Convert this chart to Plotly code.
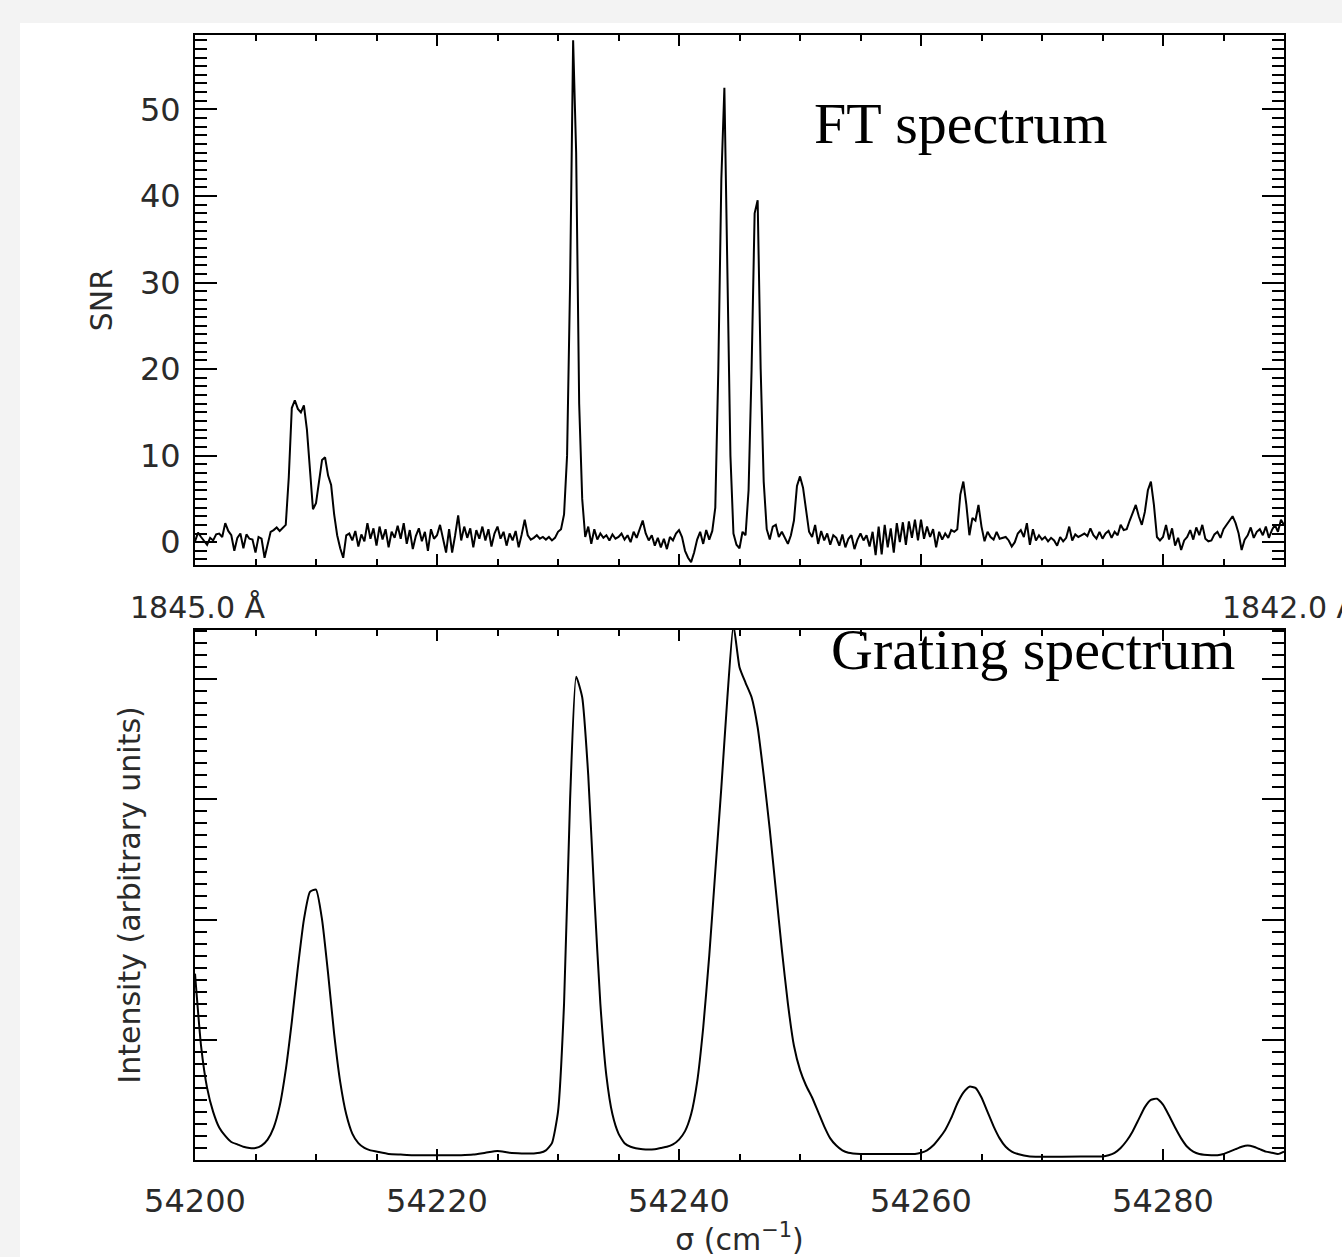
import numpy as np
import plotly.graph_objects as go

# ---------------- data ----------------
# FT spectrum: SNR sampled every 0.25 cm-1 from 54200 (rows = one cm-1 each)
ft_start = 54200.0
ft_step = 0.25
ft_snr = [
    0.1, 1.1, 0.6, 0.2,      # 54200
    -0.3, 0.5, 0.2, 0.9,     # 54201
    1.0, 0.6, 2.2, 1.3,      # 54202
    0.8, -1.0, 0.5, 1.0,     # 54203
    -0.7, 0.9, 0.4, 0.3,     # 54204
    -1.2, 0.6, 0.4, -1.8,    # 54205
    -0.2, 1.2, 1.4, 1.7,     # 54206
    1.3, 1.7, 2.0, 7.5,      # 54207
    15.5, 16.4, 15.4, 15.0,  # 54208
    15.8, 13.0, 8.5, 3.8,    # 54209
    4.5, 6.8, 9.5, 9.8,      # 54210
    7.7, 6.6, 3.2, 0.8,      # 54211
    -0.7, -1.8, 0.8, 1.0,    # 54212
    0.2, 1.3, -0.5, 0.9,     # 54213
    0.1, 2.2, 0.4, 1.6,      # 54214
    -0.4, 1.8, 0.3, 1.5,     # 54215
    -0.6, 1.2, 0.5, 1.9,     # 54216
    0.4, 2.2, -0.2, 1.4,     # 54217
    -0.8, 0.7, 1.6, 0.1,     # 54218
    1.2, -1.0, 1.5, 0.4,     # 54219
    0.8, 2.0, 0.5, -1.2,     # 54220
    1.5, -1.2, 0.8, 3.1,     # 54221
    0.2, 1.8, 0.5, 1.6,      # 54222
    -0.6, 1.4, 0.4, 1.8,     # 54223
    0.2, 1.5, -0.5, 1.0,     # 54224
    1.8, 0.4, 1.2, -0.4,     # 54225
    1.0, 0.2, 1.3, -0.6,     # 54226
    0.9, 2.6, 0.8, 0.3,      # 54227
    0.5, 0.8, 0.4, 0.6,      # 54228
    0.3, 0.6, 0.2, 0.5,      # 54229
    1.2, 1.5, 3.2, 10.0,     # 54230
    30.0, 58.0, 45.0, 16.0,  # 54231
    5.0, 0.6, 1.8, -0.2,     # 54232
    1.5, 0.3, 1.0, 0.5,      # 54233
    0.8, 0.2, 0.9, 0.4,      # 54234
    0.6, 1.0, 0.3, 0.8,      # 54235
    0.0, 1.2, 0.5, 1.6,      # 54236
    2.5, 1.0, 0.2, 0.8,      # 54237
    -0.4, 0.5, -0.6, 0.4,    # 54238
    -0.8, 0.6, 0.2, 1.0,     # 54239
    1.4, 0.6, -1.0, -1.8,    # 54240
    -2.3, -1.2, 0.3, 1.2,    # 54241
    -0.2, 1.4, 0.3, 1.3,     # 54242
    4.0, 20.0, 42.0, 52.5,   # 54243
    30.0, 10.0, 1.0, -0.3,   # 54244
    -0.7, 1.2, 0.8, 6.0,     # 54245
    20.0, 38.0, 39.5, 20.0,  # 54246
    7.0, 1.5, 0.3, 1.8,      # 54247
    2.0, 0.6, 1.2, 0.5,      # 54248
    -0.2, 0.8, 2.5, 6.5,     # 54249
    7.6, 6.3, 3.8, 1.2,      # 54250
    0.6, 2.0, -0.2, 1.3,     # 54251
    0.2, 1.0, -0.3, 0.8,     # 54252
    0.5, -0.4, 0.9, -0.6,    # 54253
    0.4, 0.8, -0.8, 0.3,     # 54254
    1.0, 0.2, 0.8, -0.5,     # 54255
    1.2, -1.5, 1.8, -1.4,    # 54256
    2.0, -0.6, 1.6, -1.2,    # 54257
    2.2, 0.0, 2.3, -0.3,     # 54258
    2.4, 0.5, 2.6, 0.2,      # 54259
    2.6, 0.4, 1.8, 0.6,      # 54260
    1.5, -0.6, 1.2, 0.3,     # 54261
    1.0, 0.5, 1.4, 1.2,      # 54262
    1.5, 5.5, 7.0, 4.3,      # 54263
    0.8, 2.8, 2.5, 4.3,      # 54264
    1.8, 0.1, 1.2, 0.6,      # 54265
    0.3, 1.2, 0.4, 0.5,      # 54266
    0.6, 0.2, -0.5, 0.0,     # 54267
    1.0, 1.4, 0.6, 2.2,      # 54268
    -0.3, 1.5, 0.2, 0.8,     # 54269
    0.3, 0.6, 0.1, 0.5,      # 54270
    0.2, -0.4, 0.6, 0.1,     # 54271
    0.5, 1.8, 0.2, 0.9,      # 54272
    0.6, 0.8, 1.0, 0.7,      # 54273
    1.6, 0.8, 0.4, 1.2,      # 54274
    0.4, 1.0, 1.3, 0.5,      # 54275
    1.2, 0.8, 2.0, 1.4,      # 54276
    1.5, 2.5, 3.5, 4.3,      # 54277
    3.0, 2.0, 3.5, 6.0,      # 54278
    7.0, 4.3, 0.6, 0.2,      # 54279
    0.6, 2.0, 0.3, 1.6,      # 54280
    -0.4, 0.5, -0.9, 0.2,    # 54281
    0.6, 1.4, 0.3, 1.7,      # 54282
    0.8, 2.0, 0.4, 0.1,      # 54283
    0.2, 0.9, 1.2, 0.5,      # 54284
    1.5, 2.0, 2.4, 3.0,      # 54285
    2.2, 1.0, -0.9, 0.3,     # 54286
    0.8, 1.7, 0.5, 1.2,      # 54287
    1.5, 0.8, 1.8, 0.5,      # 54288
    1.4, 2.0, 1.2, 2.6,      # 54289
    2.0,                     # 54290
]
ft_sigma = ft_start + ft_step * np.arange(len(ft_snr))

# Grating spectrum (arbitrary units)
grating_sigma = [
    54200.0, 54200.5, 54201.0, 54201.5, 54202.0, 54202.5, 54203.0, 54203.5,
    54204.0, 54204.5, 54205.0, 54205.5, 54206.0, 54206.5, 54207.0, 54207.5,
    54208.0, 54208.5, 54209.0, 54209.5, 54210.0, 54210.5, 54211.0, 54211.5,
    54212.0, 54212.5, 54213.0, 54213.5, 54214.0, 54214.5, 54215.0, 54216.0,
    54217.0, 54218.0, 54220.0, 54222.0, 54223.0, 54224.0, 54225.0, 54226.0,
    54227.0, 54228.0, 54228.5, 54229.0, 54229.5, 54230.0, 54230.5, 54231.0,
    54231.5, 54232.0, 54232.5, 54233.0, 54233.5, 54234.0, 54234.5, 54235.0,
    54235.5, 54236.0, 54237.0, 54238.0, 54238.5, 54239.0, 54239.5, 54240.0,
    54240.5, 54241.0, 54241.5, 54242.0, 54242.5, 54243.0, 54243.5, 54244.0,
    54244.5, 54245.0, 54245.5, 54246.0, 54246.5, 54247.0, 54247.5, 54248.0,
    54248.5, 54249.0, 54249.5, 54250.0, 54250.5, 54251.0, 54251.5, 54252.0,
    54252.5, 54253.0, 54253.5, 54254.0, 54255.0, 54258.0, 54259.0, 54259.5,
    54260.0, 54260.5, 54261.0, 54261.5, 54262.0, 54262.5, 54263.0, 54263.5,
    54264.0, 54264.5, 54265.0, 54265.5, 54266.0, 54266.5, 54267.0, 54267.5,
    54268.0, 54269.0, 54274.0, 54275.0, 54275.5, 54276.0, 54276.5, 54277.0,
    54277.5, 54278.0, 54278.5, 54279.0, 54279.5, 54280.0, 54280.5, 54281.0,
    54281.5, 54282.0, 54282.5, 54283.0, 54284.0, 54284.5, 54285.0, 54285.5,
    54286.0, 54286.5, 54287.0, 54287.5, 54288.0, 54288.5, 54289.0, 54289.5,
    54290.0,
]
grating_intensity = [
    1.55, 0.95, 0.60, 0.40, 0.27, 0.20, 0.15, 0.13,
    0.11, 0.10, 0.10, 0.12, 0.17, 0.27, 0.45, 0.75,
    1.15, 1.60, 2.00, 2.23, 2.25, 2.00, 1.55, 1.05,
    0.65, 0.38, 0.22, 0.14, 0.10, 0.08, 0.07, 0.05,
    0.045, 0.04, 0.04, 0.04, 0.045, 0.06, 0.075, 0.06,
    0.055, 0.055, 0.06, 0.08, 0.14, 0.40, 1.30, 3.00,
    4.02, 3.85, 3.20, 2.20, 1.30, 0.70, 0.38, 0.22,
    0.14, 0.11, 0.09, 0.09, 0.10, 0.11, 0.13, 0.17,
    0.24, 0.38, 0.65, 1.10, 1.70, 2.40, 3.10, 3.85,
    4.45, 4.10, 3.97, 3.85, 3.60, 3.20, 2.75, 2.25,
    1.75, 1.30, 0.95, 0.75, 0.62, 0.52, 0.40, 0.28,
    0.18, 0.12, 0.08, 0.06, 0.05, 0.05, 0.05, 0.05,
    0.06, 0.08, 0.12, 0.18, 0.25, 0.35, 0.47, 0.56,
    0.61, 0.60, 0.52, 0.40, 0.28, 0.18, 0.11, 0.07,
    0.05, 0.03, 0.03, 0.03, 0.04, 0.06, 0.10, 0.16,
    0.24, 0.34, 0.44, 0.50, 0.51, 0.46, 0.37, 0.27,
    0.18, 0.11, 0.07, 0.05, 0.04, 0.04, 0.05, 0.07,
    0.09, 0.11, 0.12, 0.11, 0.09, 0.07, 0.06, 0.05,
    0.07,
]

# ---------------- layout geometry ----------------
W, H = 1342, 1257
ML, MR, MT, MB = 195, 58, 35, 93
PW = W - ML - MR
PH = H - MT - MB


def px_x(px):
    return (px - ML) / PW


def px_y(py):
    return (H - MB - py) / PH


SANS = "DejaVu Sans"
SERIF = "Liberation Serif"
TXT = "#2a2a2a"

fig = go.Figure()
fig.add_trace(go.Scatter(x=ft_sigma, y=ft_snr, mode="lines",
                         line=dict(color="black", width=2),
                         xaxis="x", yaxis="y", showlegend=False))
fig.add_trace(go.Scatter(x=grating_sigma, y=grating_intensity, mode="lines",
                         line=dict(color="black", width=2, shape="spline", smoothing=0.5),
                         xaxis="x2", yaxis="y2", showlegend=False))

common = dict(showline=True, linecolor="black", linewidth=2, mirror="allticks",
              ticks="inside", tickcolor="black", tickwidth=2,
              showgrid=False, zeroline=False)

xcommon = dict(common, range=[54200, 54290], tick0=54200, dtick=20, ticklen=11,
               tickformat="d",
               minor=dict(dtick=5, tick0=54200, ticklen=6, tickwidth=2,
                          tickcolor="black", ticks="inside", showgrid=False))

fig.update_layout(
    width=W, height=H,
    margin=dict(l=ML, r=MR, t=MT, b=MB),
    paper_bgcolor="white", plot_bgcolor="white",
    xaxis=dict(xcommon, domain=[0, 1], anchor="y", showticklabels=False),
    yaxis=dict(common, domain=[px_y(567), 1], anchor="x", range=[-2.65, 58.6],
               tick0=0, dtick=10, ticklen=22,
               minor=dict(dtick=1, tick0=0, ticklen=12, tickwidth=2,
                          tickcolor="black", ticks="inside", showgrid=False),
               tickfont=dict(family=SANS, size=32, color=TXT),
               ticklabelstandoff=6,
               title=dict(text="SNR", font=dict(family=SANS, size=30, color=TXT),
                          standoff=18)),
    xaxis2=dict(xcommon, domain=[0, 1], anchor="y2",
                tickfont=dict(family=SANS, size=32, color=TXT),
                ticklabelstandoff=12,
                title=dict(text="σ (cm<sup>−1</sup>)",
                           font=dict(family=SANS, size=30, color=TXT), standoff=4)),
    yaxis2=dict(common, domain=[0, px_y(632)], anchor="x2", range=[0, 4.41],
                tick0=0, dtick=1, ticklen=22,
                minor=dict(dtick=0.1, tick0=0, ticklen=12, tickwidth=2,
                           tickcolor="black", ticks="inside", showgrid=False),
                showticklabels=False,
                title=dict(text="Intensity (arbitrary units)",
                           font=dict(family=SANS, size=30, color=TXT), standoff=43)),
)

# light gray frame strips (top and left)
fig.add_shape(type="rect", xref="paper", yref="paper",
              x0=px_x(-5), x1=px_x(W + 5), y0=px_y(23), y1=px_y(-5),
              fillcolor="#f3f3f3", line=dict(width=0), layer="below")
fig.add_shape(type="rect", xref="paper", yref="paper",
              x0=px_x(-5), x1=px_x(20), y0=px_y(H + 5), y1=px_y(-5),
              fillcolor="#f3f3f3", line=dict(width=0), layer="below")

fig.add_annotation(text="FT spectrum", xref="paper", yref="paper",
                   x=px_x(961), y=px_y(124), xanchor="center", yanchor="middle",
                   showarrow=False, font=dict(family=SERIF, size=58, color="black"))
fig.add_annotation(text="Grating spectrum", xref="paper", yref="paper",
                   x=px_x(1033), y=px_y(652), xanchor="center", yanchor="middle",
                   showarrow=False, font=dict(family=SERIF, size=58, color="black"))
fig.add_annotation(text="1845.0 Å", xref="paper", yref="paper",
                   x=px_x(128), y=px_y(610), xanchor="left", yanchor="middle",
                   showarrow=False, font=dict(family=SANS, size=30, color=TXT))
fig.add_annotation(text="1842.0 Å", xref="paper", yref="paper",
                   x=px_x(1220), y=px_y(610), xanchor="left", yanchor="middle",
                   showarrow=False, font=dict(family=SANS, size=30, color=TXT))

fig.write_html("out.html",
               config={"displayModeBar": False},
               post_script="document.body.style.margin='0px';"
                           "document.body.style.overflow='hidden';")
